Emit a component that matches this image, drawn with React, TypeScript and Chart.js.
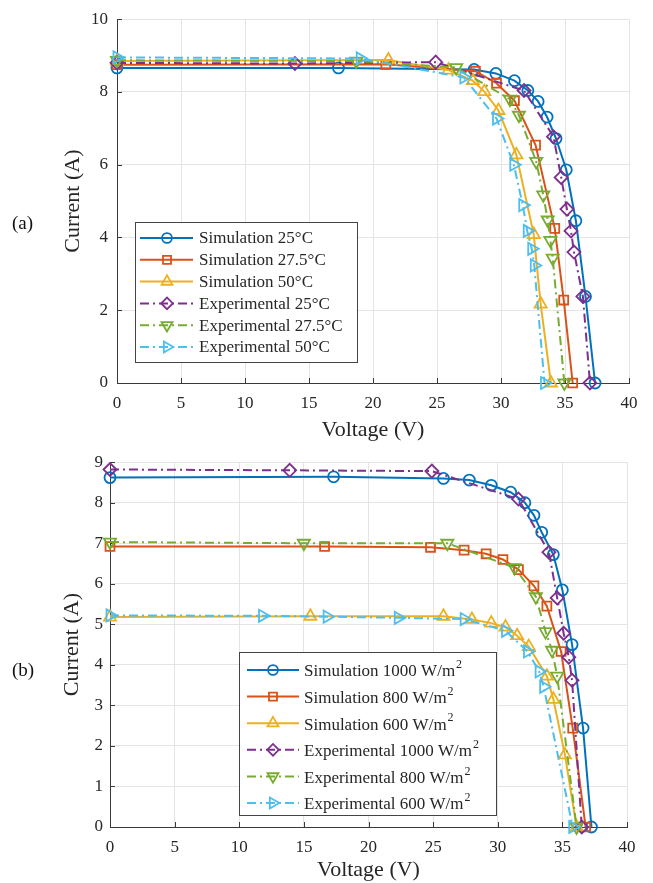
import React, { useEffect, useRef } from "react";
import { Chart, registerables } from "chart.js";
import { drawPoint } from "chart.js/helpers";

Chart.register(...registerables);

// ---------- Data: (a) temperature ----------
const simV25 = [0, 17.3, 27.9, 29.6, 31.05, 32.1, 32.9, 33.6, 34.3, 35.1, 35.85, 36.6, 37.35];
const simI25 = [8.66, 8.66, 8.62, 8.51, 8.31, 8.04, 7.74, 7.31, 6.72, 5.86, 4.46, 2.38, 0];
const simV275 = [0, 21.0, 28.0, 29.65, 31.05, 32.7, 34.2, 34.9, 35.6];
const simI275 = [8.75, 8.76, 8.57, 8.24, 7.76, 6.54, 4.25, 2.28, 0];
const simV50 = [0, 21.2, 25.9, 27.8, 28.7, 29.8, 31.2, 32.56, 33.1, 33.9];
const simI50 = [8.85, 8.88, 8.6, 8.31, 8.01, 7.49, 6.27, 4.08, 2.17, 0];
const expV25 = [0, 13.9, 24.9, 31.8, 34.1, 34.7, 35.15, 35.47, 35.7, 36.4, 36.95];
const expI25 = [8.8, 8.78, 8.82, 8.04, 6.77, 5.65, 4.78, 4.18, 3.6, 2.38, 0];
const expV275 = [0, 18.7, 26.5, 30.7, 31.4, 32.75, 33.3, 33.65, 33.86, 34.04, 34.95];
const expI275 = [8.87, 8.85, 8.67, 7.8, 7.36, 6.09, 5.17, 4.48, 3.92, 3.43, 0];
const expV50 = [0, 19.0, 27.1, 29.65, 31.0, 31.7, 32.05, 32.4, 32.6, 33.4];
const expI50 = [8.95, 8.92, 8.4, 7.27, 6.0, 4.89, 4.18, 3.69, 3.23, 0];
const labelsA = [
  "Simulation 25°C",
  "Simulation 27.5°C",
  "Simulation 50°C",
  "Experimental 25°C",
  "Experimental 27.5°C",
  "Experimental 50°C",
];

// ---------- Data: (b) irradiance ----------
const simV1000 = [0, 17.3, 25.8, 27.8, 29.5, 31.0, 32.1, 32.8, 33.4, 34.3, 35.0, 35.75, 36.6, 37.25];
const simI1000 = [8.62, 8.64, 8.6, 8.56, 8.43, 8.26, 8.0, 7.69, 7.27, 6.72, 5.85, 4.5, 2.44, 0];
const simV800 = [0, 16.6, 24.8, 27.4, 29.1, 30.4, 31.6, 32.8, 33.8, 34.9, 35.8, 36.8];
const simI800 = [6.92, 6.92, 6.9, 6.83, 6.74, 6.6, 6.35, 5.95, 5.45, 4.33, 2.44, 0];
const simV600 = [0, 15.5, 25.8, 28.0, 29.5, 30.6, 31.5, 32.4, 33.8, 34.3, 35.2, 36.1];
const simI600 = [5.18, 5.2, 5.2, 5.12, 5.03, 4.93, 4.72, 4.45, 3.72, 3.15, 1.78, 0];
const expV1000 = [0, 13.9, 24.9, 31.6, 33.96, 34.6, 35.1, 35.5, 35.75, 36.5];
const expI1000 = [8.82, 8.8, 8.78, 8.09, 6.78, 5.65, 4.78, 4.19, 3.62, 0];
const expV800 = [0, 15.0, 26.1, 31.3, 32.95, 33.7, 34.2, 34.6, 36.1];
const expI800 = [7.03, 7.0, 7.0, 6.4, 5.68, 4.82, 4.36, 3.72, 0];
const expV600 = [0, 11.8, 16.8, 22.3, 27.4, 30.6, 32.3, 33.2, 33.55, 35.8];
const expI600 = [5.22, 5.21, 5.19, 5.16, 5.13, 4.84, 4.33, 3.84, 3.46, 0];
const labelsB = [
  "Simulation 1000 W/m²",
  "Simulation 800 W/m²",
  "Simulation 600 W/m²",
  "Experimental 1000 W/m²",
  "Experimental 800 W/m²",
  "Experimental 600 W/m²",
];

const xTicksMax = 40;
const xStep = 5;
const yMaxA = 10;
const yStepA = 2;
const yMaxB = 9;
const yStepB = 1;

// ---------- Styles ----------
const colors = ["#0072BD", "#D95319", "#EDB120", "#7E2F8E", "#77AC30", "#4DBEEE"];
const markers = [
  { style: "circle", rot: 0, r: 5.5 },
  { style: "rect", rot: 0, r: 6.3 },
  { style: "triangle", rot: 0, r: 7 },
  { style: "rectRot", rot: 0, r: 6.5 },
  { style: "triangle", rot: 180, r: 7 },
  { style: "triangle", rot: 90, r: 7 },
];
const DASHDOT = [9, 4, 2, 4];
const SERIF = '"Liberation Serif", "Times New Roman", serif';
const TEXT = "#262626";
const AXIS = "#3a3a3a";

function buildDatasets(vs: number[][], is: number[][], labels: string[]) {
  return vs.map((v, k) => ({
    label: labels[k],
    data: v.map((x, j) => ({ x, y: is[k][j] })),
    borderColor: colors[k],
    backgroundColor: "rgba(0,0,0,0)",
    borderWidth: 2,
    borderDash: k >= 3 ? DASHDOT : [],
    pointStyle: markers[k].style,
    pointRotation: markers[k].rot,
    pointRadius: markers[k].r,
    pointHoverRadius: markers[k].r,
    pointBorderWidth: 1.8,
    pointBorderColor: colors[k],
    pointBackgroundColor: "rgba(0,0,0,0)",
    tension: 0,
    clip: false,
    order: vs.length - 1 - k,
  }));
}

const inTicksPlugin = {
  id: "inTicks",
  beforeDatasetsDraw(chart: any) {
    const { ctx, chartArea, scales } = chart;
    const x = scales.x;
    const y = scales.y;
    ctx.save();
    ctx.strokeStyle = AXIS;
    ctx.lineWidth = 1;
    ctx.beginPath();
    x.ticks.forEach((t: any) => {
      const px = Math.round(x.getPixelForValue(t.value)) + 0.5;
      ctx.moveTo(px, chartArea.bottom);
      ctx.lineTo(px, chartArea.bottom - 5);
    });
    y.ticks.forEach((t: any) => {
      const py = Math.round(y.getPixelForValue(t.value)) + 0.5;
      ctx.moveTo(chartArea.left, py);
      ctx.lineTo(chartArea.left + 5, py);
    });
    ctx.stroke();
    ctx.restore();
  },
};

const legendPlugin = {
  id: "matLegend",
  afterDraw(chart: any, _args: any, o: any) {
    if (!o || !o.w) return;
    const { ctx } = chart;
    ctx.save();
    ctx.fillStyle = "#ffffff";
    ctx.fillRect(o.x, o.y, o.w, o.h);
    ctx.strokeStyle = "#444";
    ctx.lineWidth = 1;
    ctx.setLineDash([]);
    ctx.strokeRect(o.x + 0.5, o.y + 0.5, o.w, o.h);
    chart.data.datasets.forEach((ds: any, i: number) => {
      const cy = o.y + o.first + i * o.rowH;
      ctx.strokeStyle = ds.borderColor;
      ctx.lineWidth = ds.borderWidth;
      ctx.setLineDash(ds.borderDash || []);
      ctx.beginPath();
      ctx.moveTo(o.x + o.lx0, cy);
      ctx.lineTo(o.x + o.lx1, cy);
      ctx.stroke();
      ctx.setLineDash([]);
      ctx.fillStyle = "rgba(0,0,0,0)";
      ctx.strokeStyle = ds.pointBorderColor;
      ctx.lineWidth = ds.pointBorderWidth;
      drawPoint(
        ctx,
        {
          pointStyle: ds.pointStyle,
          rotation: ds.pointRotation,
          radius: ds.pointRadius * 0.9,
          borderWidth: ds.pointBorderWidth,
        } as any,
        o.x + o.mx,
        cy
      );
      ctx.fillStyle = TEXT;
      ctx.font = `${o.fontSize}px ${SERIF}`;
      ctx.textBaseline = "middle";
      ctx.textAlign = "left";
      const label: string = ds.label;
      const supIdx = label.indexOf("²");
      if (supIdx >= 0) {
        const base = label.slice(0, supIdx);
        ctx.fillText(base, o.x + o.tx, cy + 2);
        const w = ctx.measureText(base).width;
        ctx.font = `${Math.round(o.fontSize * 0.72)}px ${SERIF}`;
        ctx.fillText("2", o.x + o.tx + w + 1, cy - 5);
      } else {
        ctx.fillText(label, o.x + o.tx, cy + 1);
      }
    });
    ctx.restore();
  },
};

function makeConfig(datasets: any[], yMax: number, yStep: number, lay: any, legend: any) {
  return {
    type: "line",
    data: { datasets },
    plugins: [inTicksPlugin, legendPlugin],
    options: {
      animation: false,
      responsive: false,
      events: [],
      layout: { padding: lay.padding },
      plugins: {
        legend: { display: false },
        tooltip: { enabled: false },
        title: { display: false },
        matLegend: legend,
      },
      scales: {
        x: {
          type: "linear",
          min: 0,
          max: xTicksMax,
          afterFit: (s: any) => {
            s.height = lay.xHeight;
          },
          ticks: {
            stepSize: xStep,
            color: TEXT,
            font: { family: SERIF, size: 17 },
            padding: lay.xTickPad,
            maxRotation: 0,
          },
          grid: { color: "#e4e4e4", drawTicks: false, lineWidth: 1 },
          border: { color: AXIS, width: 1 },
          title: {
            display: true,
            text: "Voltage (V)",
            color: TEXT,
            font: { family: SERIF, size: 22 },
            padding: { top: 0, bottom: lay.xTitlePad },
          },
        },
        y: {
          type: "linear",
          min: 0,
          max: yMax,
          afterFit: (s: any) => {
            s.width = lay.yWidth;
          },
          ticks: {
            stepSize: yStep,
            color: TEXT,
            font: { family: SERIF, size: 17 },
            padding: lay.yTickPad,
          },
          grid: { color: "#e4e4e4", drawTicks: false, lineWidth: 1 },
          border: { color: AXIS, width: 1 },
          title: {
            display: true,
            text: "Current (A)",
            color: TEXT,
            font: { family: SERIF, size: 22 },
            padding: { top: 0, bottom: 0 },
          },
        },
      },
    },
  };
}

function ChartCanvas({ config, top, height }: { config: any; top: number; height: number }) {
  const ref = useRef<HTMLCanvasElement | null>(null);
  useEffect(() => {
    if (!ref.current) return;
    const chart = new Chart(ref.current, config);
    return () => chart.destroy();
  }, [config]);
  return (
    <canvas
      ref={ref}
      width={653}
      height={height}
      style={{ position: "absolute", left: 0, top, width: 653, height }}
    />
  );
}

const dsA = buildDatasets(
  [simV25, simV275, simV50, expV25, expV275, expV50],
  [simI25, simI275, simI50, expI25, expI275, expI50],
  labelsA
);
const dsB = buildDatasets(
  [simV1000, simV800, simV600, expV1000, expV800, expV600],
  [simI1000, simI800, simI600, expI1000, expI800, expI600],
  labelsB
);

const configA = makeConfig(
  dsA,
  yMaxA,
  yStepA,
  {
    padding: { left: 60, top: 16, right: 24, bottom: 0 },
    yWidth: 57,
    xHeight: 62,
    xTickPad: 10,
    yTickPad: 9,
    xTitlePad: 2,
  },
  { x: 135, y: 222, w: 222, h: 140, first: 16, rowH: 21.8, lx0: 5, lx1: 58, mx: 32, tx: 64, fontSize: 17 }
);

const configB = makeConfig(
  dsB,
  yMaxB,
  yStepB,
  {
    padding: { left: 59, top: 12, right: 26, bottom: 0 },
    yWidth: 51,
    xHeight: 56,
    xTickPad: 10,
    yTickPad: 7,
    xTitlePad: 0,
  },
  { x: 239, y: 207, w: 257, h: 163, first: 18, rowH: 26.6, lx0: 8, lx1: 60, mx: 34, tx: 65, fontSize: 17 }
);

export default function App() {
  const labelStyle: React.CSSProperties = {
    position: "absolute",
    left: 12,
    fontFamily: SERIF,
    fontSize: 19,
    color: "#111",
    lineHeight: "20px",
  };
  return (
    <div style={{ position: "absolute", left: 0, top: 0, width: 653, height: 883, background: "#fff", overflow: "hidden" }}>
      <ChartCanvas config={configA} top={0} height={445} />
      <ChartCanvas config={configB} top={445} height={438} />
      <div style={{ ...labelStyle, top: 213 }}>(a)</div>
      <div style={{ ...labelStyle, top: 660 }}>(b)</div>
    </div>
  );
}
